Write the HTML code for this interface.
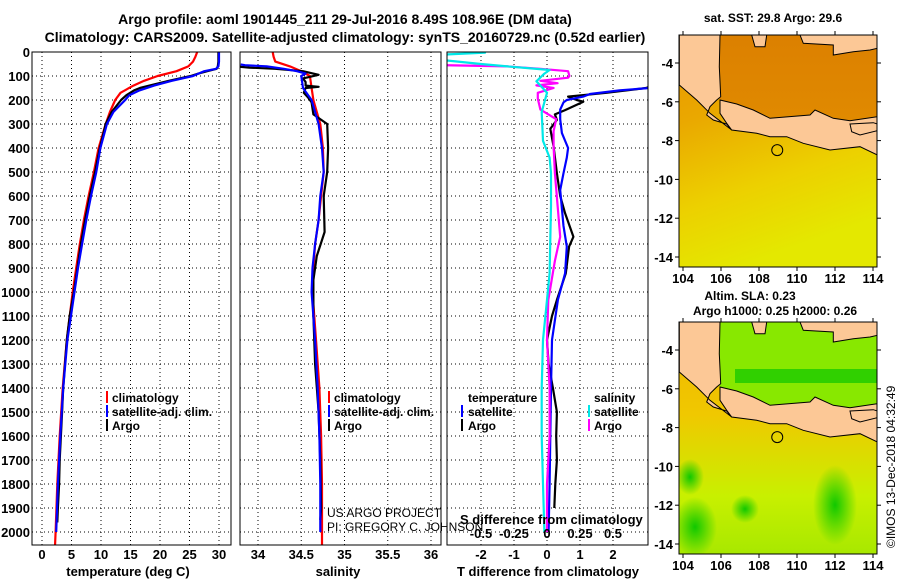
<!DOCTYPE html>
<html><head><meta charset="utf-8">
<style>
html,body{margin:0;padding:0;background:#fff;}
svg{display:block;font-family:"Liberation Sans",sans-serif;}
.b{font-weight:bold;}
</style></head>
<body>
<svg id="fig" width="900" height="580" viewBox="0 0 900 580" xmlns="http://www.w3.org/2000/svg">
<defs>
<clipPath id="c1"><rect x="32" y="38" width="199" height="507"/></clipPath>
<clipPath id="c2"><rect x="240" y="38" width="201" height="507"/></clipPath>
<clipPath id="c3"><rect x="447" y="38" width="201" height="507"/></clipPath>
<clipPath id="cm1"><rect x="679" y="35" width="198" height="232"/></clipPath>
<clipPath id="cm2"><rect x="679" y="322" width="198" height="232"/></clipPath>
<linearGradient id="sstS" x1="0" y1="0" x2="0.3" y2="1"><stop offset="0" stop-color="#e89400"/><stop offset="0.35" stop-color="#eaa800"/><stop offset="0.7" stop-color="#ecd000"/><stop offset="1" stop-color="#e4e800"/></linearGradient>
<linearGradient id="sstN" x1="0" y1="0" x2="0" y2="1"><stop offset="0" stop-color="#dc8000"/><stop offset="1" stop-color="#e08a00"/></linearGradient>
<linearGradient id="slaS" x1="0" y1="0" x2="0" y2="1"><stop offset="0" stop-color="#f0b400"/><stop offset="0.4" stop-color="#f0c800"/><stop offset="0.75" stop-color="#c8f000"/><stop offset="1" stop-color="#a8e800"/></linearGradient>
<radialGradient id="blob"><stop offset="0" stop-color="#10c800"/><stop offset="1" stop-color="#10c800" stop-opacity="0"/></radialGradient>
</defs>
<text x="345" y="24" text-anchor="middle" class="b" font-size="14">Argo profile: aoml 1901445_211 29-Jul-2016 8.49S 108.96E (DM data)</text>
<text x="345" y="42" text-anchor="middle" class="b" font-size="14">Climatology: CARS2009. Satellite-adjusted climatology: synTS_20160729.nc (0.52d earlier)</text>
<g id="grid"></g>
<g id="series"></g>
<g id="axes"></g>
<g id="maps"></g>
<g font-family="Liberation Sans, sans-serif">
<g font-size="12" font-weight="bold">
 <rect x="106" y="391" width="2" height="12" fill="#ff0000"/><text x="112" y="402">climatology</text>
 <rect x="106" y="405" width="2" height="12" fill="#0000ff"/><text x="112" y="416">satellite-adj. clim.</text>
 <rect x="106" y="419" width="2" height="12" fill="#000"/><text x="112" y="430">Argo</text>
</g>
<g font-size="12" font-weight="bold">
 <rect x="328" y="391" width="2" height="12" fill="#ff0000"/><text x="334" y="402">climatology</text>
 <rect x="328" y="405" width="2" height="12" fill="#0000ff"/><text x="334" y="416">satellite-adj. clim.</text>
 <rect x="328" y="419" width="2" height="12" fill="#000"/><text x="334" y="430">Argo</text>
</g>
<g font-size="12" font-weight="bold">
 <text x="468" y="402">temperature</text><text x="594" y="402">salinity</text>
 <rect x="461" y="405" width="2" height="12" fill="#0000ff"/><text x="468" y="416">satellite</text>
 <rect x="461" y="419" width="2" height="12" fill="#000"/><text x="468" y="430">Argo</text>
 <rect x="588" y="405" width="2" height="12" fill="#00e8e8"/><text x="594" y="416">satellite</text>
 <rect x="588" y="419" width="2" height="12" fill="#ff00ff"/><text x="594" y="430">Argo</text>
</g>
<text x="327" y="517" font-size="12">US ARGO PROJECT</text>
<text x="327" y="531" font-size="12">PI: GREGORY C. JOHNSON</text>
<text x="460" y="524" font-size="13" font-weight="bold">S difference from climatology</text>
<text x="128" y="576" text-anchor="middle" font-size="13" font-weight="bold">temperature (deg C)</text>
<text x="338" y="576" text-anchor="middle" font-size="13" font-weight="bold">salinity</text>
<text x="548" y="576" text-anchor="middle" font-size="13" font-weight="bold">T difference from climatology</text>
<text x="773" y="22" text-anchor="middle" font-size="12" font-weight="bold">sat. SST: 29.8 Argo: 29.6</text>
<text x="750" y="300" text-anchor="middle" font-size="12" font-weight="bold">Altim. SLA: 0.23</text>
<text x="775" y="315" text-anchor="middle" font-size="12" font-weight="bold">Argo h1000: 0.25 h2000: 0.26</text>
<text transform="translate(895,548) rotate(-90)" font-size="12">©IMOS 13-Dec-2018 04:32:49</text>
</g>
</svg>
<script>
// ---------- data ----------
const depthTicks = [0,100,200,300,400,500,600,700,800,900,1000,1100,1200,1300,1400,1500,1600,1700,1800,1900,2000];
const tempTicks = [0,5,10,15,20,25,30];
const salTicks = [34,34.5,35,35.5,36];
const salTickLabels = ["34","34.5","35","35.5","36"];
const dtTicks = [-2,-1,0,1,2];
const dsTicks = [-0.5,-0.25,0,0.25,0.5];
const dsTickLabels = ["-0.5","-0.25","0","0.25","0.5"];

const argoTDepth = [0,20,40,60,70,80,90,100,120,140,150,160,180,200,250,300,350,400,500,600,700,800,900,1000,1100,1200,1300,1400,1500,1600,1700,1800,1900,1960];
const argoTVal = [29.9,29.9,29.9,29.8,29.6,28,26.5,25.2,21.5,18.2,16.6,15.6,14.3,13.4,11.8,10.8,10.3,9.8,9,8.1,7.3,6.6,6,5.4,4.7,4.2,3.9,3.6,3.4,3.2,3,2.9,2.7,2.6];
const climTDepth = [0,20,40,60,80,100,120,140,170,200,250,300,400,500,600,700,800,900,1000,1200,1400,1600,1800,2000,2060];
const climTVal = [26.3,26,25.6,24.8,22.8,19.6,17.3,15.5,13.3,12.4,11.5,10.8,9.6,8.8,7.9,7.1,6.4,5.8,5.2,4.2,3.5,3.0,2.6,2.3,2.2];
const satTDepth = [0,20,40,60,70,80,90,100,120,140,160,180,200,250,300,400,500,600,700,800,900,1000,1200,1400,1600,1800,2000];
const satTVal = [30,30,30,29.9,29.5,27.5,26.5,25.6,22,19,16.5,14.8,14.1,12.1,11,9.9,9.2,8.3,7.5,6.8,6.1,5.5,4.3,3.6,3.1,2.7,2.4];

const argoSDepth = [55,60,65,70,80,95,110,125,140,145,150,170,190,210,260,300,400,500,600,750,850,950,1100,1300,1500,1700,1900,1950];
const argoSVal = [33.7,33.75,33.9,34.2,34.52,34.7,34.52,34.55,34.55,34.7,34.55,34.53,34.58,34.62,34.64,34.8,34.81,34.8,34.76,34.77,34.68,34.64,34.64,34.66,34.7,34.72,34.73,34.72];
const climSDepth = [0,20,40,60,80,100,150,200,250,300,400,500,600,700,800,900,1000,1200,1400,1600,1800,2000,2060];
const climSVal = [34.17,34.18,34.2,34.37,34.5,34.6,34.62,34.64,34.68,34.72,34.75,34.76,34.73,34.7,34.66,34.64,34.63,34.67,34.71,34.73,34.74,34.74,34.74];
const satSDepth = [52,55,60,70,80,90,100,150,200,300,400,500,600,700,800,900,1000,1200,1400,1600,1800,2000];
const satSVal = [33.8,33.85,34.1,34.3,34.45,34.55,34.5,34.52,34.62,34.7,34.74,34.76,34.72,34.7,34.66,34.63,34.62,34.66,34.69,34.71,34.72,34.72];

const argoDTDepth = [130,140,150,170,186,200,207,242,260,283,320,394,505,600,672,770,811,922,1033,1100,1200,1300,1400,1500,1600,1700,1800,1900];
const argoDTVal = [3.5,3.2,3.0,1.8,0.64,0.9,1.1,0.55,0.24,0.3,0.1,0.2,0.3,0.4,0.55,0.8,0.67,0.57,0.3,0.15,0,0.05,0.18,0.3,0.28,0.3,0.25,0.22];
const satDTDepth = [150,160,175,186,200,210,240,280,338,400,440,505,575,725,811,922,1033,1200,1400,1600,1800,2000];
const satDTVal = [3.1,2.2,1.3,1.1,0.6,0.5,0.4,0.4,0.45,0.64,0.6,0.5,0.4,0.5,0.6,0.55,0.33,0.15,0.12,0.1,0.08,0.05];
const argoDSDepth = [54,60,70,80,100,107,120,130,139,150,170,194,240,280,330,394,505,640,770,870,1033,1200,1400,1600,1800,2000];
const argoDSVal = [-0.85,-0.3,-0.05,0.16,0.17,0.16,-0.05,0.08,-0.08,0.05,-0.07,-0.07,-0.05,0.07,0.05,0.05,0.06,0.08,0.1,0.06,0.01,0.0,0.02,0.02,0.0,0.0];
const satDSDepth = [0,3,10,30,50,60,75,90,122,170,250,370,440,505,640,922,1033,1200,1400,1600,1800,2000];
const satDSVal = [-0.47,-0.47,-0.75,-0.85,-0.5,-0.3,0.02,-0.02,-0.08,0,-0.04,-0.03,0.02,0.03,0.03,0.02,0,-0.03,-0.04,-0.04,-0.03,-0.02];

// ---------- scales ----------
const yD = d => 52 + d*0.24;
const xT = t => 42 + t*5.9;
const xS = s => 258 + (s-34)*86.5;
const xDT = v => 547 + v*33;
const xDS = v => 547 + v*132;
const NS = "http://www.w3.org/2000/svg";
function mk(tag, attrs, parent){const e=document.createElementNS(NS,tag);for(const k in attrs)e.setAttribute(k,attrs[k]);parent.appendChild(e);return e;}
const grid=document.getElementById('grid'), ser=document.getElementById('series'), ax=document.getElementById('axes'), maps=document.getElementById('maps');

const panels=[{x0:32,x1:231,xs:tempTicks.map(xT),name:'temperature'},{x0:240,x1:441,xs:salTicks.map(xS),name:'salinity'},{x0:447,x1:648,xs:dtTicks.map(xDT),name:'difference'}];
panels.forEach(p=>{
  depthTicks.forEach(d=>{
    const l=mk('line',{x1:p.x0,x2:p.x1,y1:yD(d),y2:yD(d),stroke:'#000','stroke-width':1,'stroke-dasharray':'1,3'},grid);
    
    
  });
  p.xs.forEach(x=>{
    const l=mk('line',{x1:x,x2:x,y1:52,y2:545,stroke:'#000','stroke-width':1,'stroke-dasharray':'1,3'},grid);
    
    
  });
  const r=mk('rect',{x:p.x0,y:52,width:p.x1-p.x0,height:493,fill:'none',stroke:'#000','stroke-width':1},ax);
  
  
});
depthTicks.forEach(d=>{
  const t=mk('text',{x:30,y:yD(d)+5,'text-anchor':'end','font-size':13,'font-weight':'bold'},ax);
  t.textContent=d;
  
  
});
function xlabels(vals,labels,fx,y,nm){vals.forEach((v,i)=>{const t=mk('text',{x:fx(v),y:y,'text-anchor':'middle','font-size':13,'font-weight':'bold'},ax);t.textContent=labels[i];
  
  });}
xlabels(tempTicks,tempTicks.map(String),xT,559,'temperature-tick-label');
xlabels(salTicks,salTickLabels,xS,559,'salinity-tick-label');
xlabels(dtTicks,dtTicks.map(String),xDT,559,'t-difference-tick-label');
xlabels(dsTicks,dsTickLabels,xDS,538,'s-difference-tick-label');

function line(depths,vals,fx,color,clip,nm){
  const pts=depths.map((d,i)=>fx(vals[i]).toFixed(1)+','+yD(d).toFixed(1)).join(' ');
  const pl=mk('polyline',{points:pts,fill:'none',stroke:color,'stroke-width':2.2,'clip-path':'url(#'+clip+')','stroke-linejoin':'round'},ser);
  
  
}
line(climTDepth,climTVal,xT,'#ff0000','c1','temperature-climatology-line');
line(argoTDepth,argoTVal,xT,'#000000','c1','temperature-argo-line');
line(satTDepth,satTVal,xT,'#0000ff','c1','temperature-satellite-line');
line(climSDepth,climSVal,xS,'#ff0000','c2','salinity-climatology-line');
line(argoSDepth,argoSVal,xS,'#000000','c2','salinity-argo-line');
line(satSDepth,satSVal,xS,'#0000ff','c2','salinity-satellite-line');
line(argoDTDepth,argoDTVal,xDT,'#000000','c3','t-diff-argo-line');
line(satDTDepth,satDTVal,xDT,'#0000ff','c3','t-diff-satellite-line');
line(argoDSDepth,argoDSVal,xDS,'#ff00ff','c3','s-diff-argo-line');
line(satDSDepth,satDSVal,xDS,'#00e8e8','c3','s-diff-satellite-line');

// ---------- maps ----------
const lonTicks=[104,106,108,110,112,114];
const latTicks=[-4,-6,-8,-10,-12,-14];
const xL = lon => 683 + (lon-104)*19;
const yLat = lat => 63 + (-4-lat)*19.4;
const sumatra=[[58,105],[180,105],[178,200],[182,290],[170,300],[150,320],[140,345],[160,360],[200,372],[215,390],[150,340],[110,300],[58,255]];
const java=[[180,300],[230,312],[280,330],[330,355],[450,345],[465,330],[520,355],[570,362],[652,350],[652,465],[600,440],[510,450],[430,430],[380,410],[330,410],[290,400],[215,390],[200,370],[180,340]];
const borneo=[[420,105],[430,130],[520,135],[520,165],[580,155],[630,150],[652,145],[652,105]];
const islet=[[275,105],[320,105],[315,140],[285,140]];
const bali=[[570,372],[640,368],[652,372],[652,392],[600,405],[575,395]];
function poly(pts,oy){return pts.map(p=>(660+p[0]/3).toFixed(1)+','+(p[1]/3+oy).toFixed(1)).join(' ');}
function drawMap(oy,clip,top,nm){
  const g=mk('g',{'clip-path':'url(#'+clip+')'},maps);
  
  
  if(top){
    mk('rect',{x:679,y:35+oy,width:198,height:232,fill:'url(#sstS)'},g);
    mk('polygon',{points:poly([[58,105],[652,105],[652,350],[570,362],[520,355],[465,330],[450,345],[330,355],[230,312],[180,300]],oy),fill:'url(#sstN)'},g);
  } else {
    mk('rect',{x:679,y:35+oy,width:198,height:232,fill:'url(#slaS)'},g);
    mk('polygon',{points:poly([[58,105],[652,105],[652,350],[570,362],[520,355],[465,330],[450,345],[330,355],[230,312],[180,300]],oy),fill:'#88e800'},g);
    mk('rect',{x:735,y:82+oy,width:142,height:14,fill:'#30d000'},g);
    mk('ellipse',{cx:835,cy:218+oy,rx:22,ry:40,fill:'url(#blob)'},g);
    mk('ellipse',{cx:745,cy:222+oy,rx:14,ry:14,fill:'url(#blob)'},g);
    mk('ellipse',{cx:695,cy:240+oy,rx:22,ry:30,fill:'url(#blob)'},g);
    mk('ellipse',{cx:690,cy:190+oy,rx:14,ry:18,fill:'url(#blob)'},g);
  }
  [sumatra,java,borneo,islet,bali].forEach(pg=>{
    const p=mk('polygon',{points:poly(pg,oy),fill:'#fcc896',stroke:'#000','stroke-width':1},g);
    
    
  });
  const c=mk('circle',{cx:xL(108.96),cy:yLat(-8.49)+oy,r:5.5,fill:'none',stroke:'#000','stroke-width':1},maps);
  
  
  const fr=mk('rect',{x:679,y:35+oy,width:198,height:232,fill:'none',stroke:'#000','stroke-width':1},maps);
  
  
  lonTicks.forEach(l=>{
    mk('line',{x1:xL(l),x2:xL(l),y1:35+oy,y2:31+oy,stroke:'#000'},maps);
    mk('line',{x1:xL(l),x2:xL(l),y1:267+oy,y2:271+oy,stroke:'#000'},maps);
    const t=mk('text',{x:xL(l),y:283+oy,'text-anchor':'middle','font-size':13,'font-weight':'bold'},maps);
    t.textContent=l;
    
    
  });
  latTicks.forEach(l=>{
    mk('line',{x1:675,x2:679,y1:yLat(l)+oy,y2:yLat(l)+oy,stroke:'#000'},maps);
    mk('line',{x1:877,x2:881,y1:yLat(l)+oy,y2:yLat(l)+oy,stroke:'#000'},maps);
    const t=mk('text',{x:673,y:yLat(l)+oy+5,'text-anchor':'end','font-size':13,'font-weight':'bold'},maps);
    t.textContent=l;
    
    
  });
}
drawMap(0,'cm1',true,'sst');
drawMap(287,'cm2',false,'sla');
</script>
</body></html>
